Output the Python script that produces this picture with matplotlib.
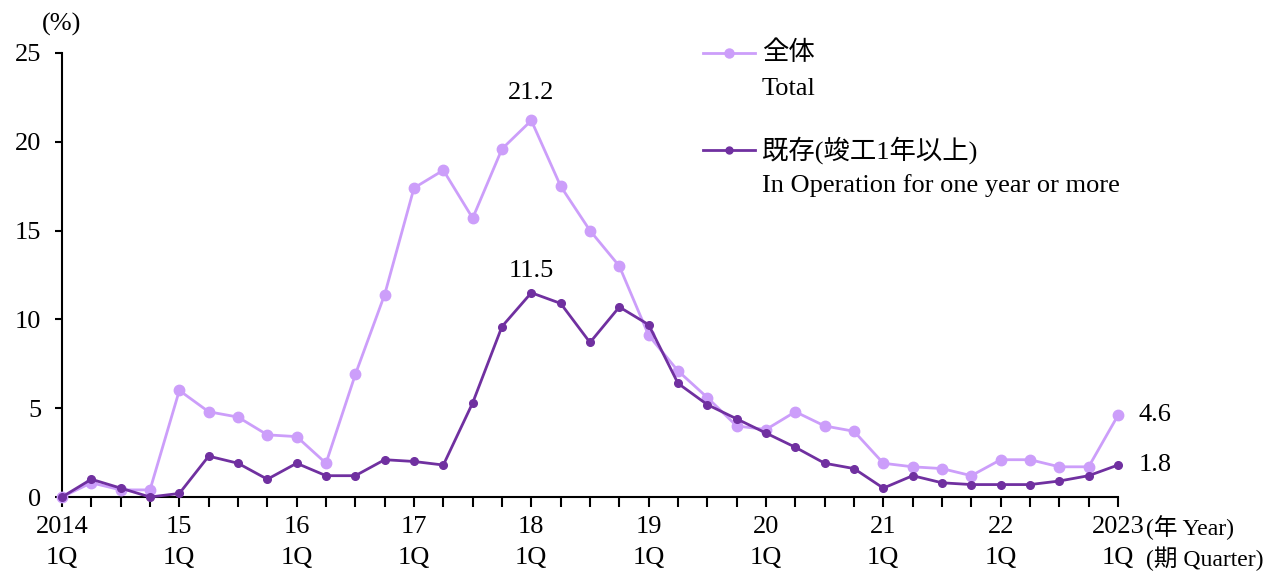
import numpy as np
import matplotlib
matplotlib.use('Agg')
import matplotlib.pyplot as plt
from matplotlib.lines import Line2D

plt.rcParams['font.family'] = ['Liberation Serif', 'Noto Sans CJK JP', 'DejaVu Sans']

# quarterly vacancy rates, 2014 1Q .. 2023 1Q
total = [0.0, 0.8, 0.4, 0.4, 6.0, 4.8, 4.5, 3.5, 3.4, 1.9, 6.9, 11.4,
         17.4, 18.4, 15.7, 19.6, 21.2, 17.5, 15.0, 13.0, 9.1, 7.1, 5.6, 4.0,
         3.8, 4.8, 4.0, 3.7, 1.9, 1.7, 1.6, 1.2, 2.1, 2.1, 1.7, 1.7, 4.6]
existing = [0.0, 1.0, 0.5, 0.0, 0.2, 2.3, 1.9, 1.0, 1.9, 1.2, 1.2, 2.1,
            2.0, 1.8, 5.3, 9.6, 11.5, 10.9, 8.7, 10.7, 9.7, 6.4, 5.2, 4.4,
            3.6, 2.8, 1.9, 1.6, 0.5, 1.2, 0.8, 0.7, 0.7, 0.7, 0.9, 1.2, 1.8]
year_labels = ['2014', '15', '16', '17', '18', '19', '20', '21', '22', '2023']
yticks = [0, 5, 10, 15, 20, 25]

c_total = '#CC9EFA'
c_exist = '#7030A0'
fs = 19

fig = plt.figure(figsize=(12.88, 5.71), dpi=100)
ax = fig.add_axes([62 / 1288, 1 - 497 / 571, (1118 - 62) / 1288, (497 - 53) / 571])

x = np.arange(len(total))
ax.plot(x, total, '-', color=c_total, lw=2.0, marker='o', markersize=7.5, clip_on=False, zorder=3)
ax.plot(x, existing, '-', color=c_exist, lw=2.0, marker='o', markersize=5.5, clip_on=False, zorder=4)

ax.set_xlim(0, len(total) - 1)
ax.set_ylim(0, 25)
ax.set_yticks(yticks)
ax.set_yticklabels([str(v) for v in yticks], fontsize=fs)
ax.set_xticks(x)
ax.set_xticklabels([])
ax.tick_params(axis='x', direction='out', length=7, width=1.5)
ax.tick_params(axis='y', direction='out', length=5, width=1.5, pad=10)
for s in ['top', 'right']:
    ax.spines[s].set_visible(False)
for s in ['left', 'bottom']:
    ax.spines[s].set_linewidth(1.5)

# year / quarter labels
trans = ax.get_xaxis_transform()
for i, lab in enumerate(year_labels):
    ax.text(i * 4, -0.068, lab, transform=trans, ha='center', va='center', fontsize=fs)
    ax.text(i * 4, -0.138, '1Q', transform=trans, ha='center', va='center', fontsize=fs)
ax.text(36.95, -0.068, '(年 Year)', transform=trans, ha='left', va='center', fontsize=17)
ax.text(36.95, -0.138, '(期 Quarter)', transform=trans, ha='left', va='center', fontsize=17)

fig.text(62 / 1288, 1 - 24 / 571, '(%)', ha='center', va='center', fontsize=fs)

# data labels
imax = int(np.argmax(total))
ax.annotate('%.1f' % total[imax], (imax, total[imax]), xytext=(0, 20), textcoords='offset points',
            ha='center', va='center', fontsize=fs)
ax.annotate('%.1f' % existing[imax], (imax, existing[imax]), xytext=(0, 16), textcoords='offset points',
            ha='center', va='center', fontsize=fs)
ax.annotate('%.1f' % total[-1], (x[-1], total[-1]), xytext=(15, 0), textcoords='offset points',
            ha='left', va='center', fontsize=fs)
ax.annotate('%.1f' % existing[-1], (x[-1], existing[-1]), xytext=(15, 0), textcoords='offset points',
            ha='left', va='center', fontsize=fs)

# legend drawn by hand
def leg_entry(y, color, ms, line1, line2):
    x0, x1 = 703 / 1288, 755 / 1288
    fig.add_artist(Line2D([x0, x1], [y, y], color=color, lw=2.0, transform=fig.transFigure))
    fig.add_artist(Line2D([(x0 + x1) / 2], [y], color=color, marker='o', markersize=ms,
                          transform=fig.transFigure))
    fig.text(762 / 1288, y, line1, ha='left', va='center', fontsize=fs)
    fig.text(762 / 1288, y - 36 / 571, line2, ha='left', va='center', fontsize=fs)

leg_entry(1 - 53 / 571, c_total, 6.5, '全体', 'Total')
leg_entry(1 - 150 / 571, c_exist, 5, '既存(竣工1年以上)', 'In Operation for one year or more')

fig.savefig('out.png', dpi=100)
